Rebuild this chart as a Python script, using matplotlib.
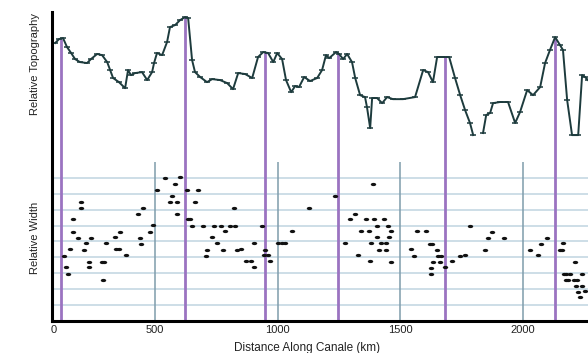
import numpy as np
import matplotlib
matplotlib.use("Agg")
import matplotlib.pyplot as plt
from matplotlib.path import Path
from matplotlib.transforms import Affine2D

plt.rcParams["font.family"] = ["Liberation Sans", "DejaVu Sans"]

# Topography profile (distance km, relative height)
topo_km = [93, 109, 125, 141, 158, 174, 194, 223, 239, 264, 284, 305, 317, 329, 353,
           378, 390, 402, 419, 447, 468, 488, 496, 508, 529, 549, 561, 582, 602, 623,
           635, 651, 663, 684, 712, 733, 765, 794, 818, 839, 867, 896, 920, 941, 961,
           982, 998, 1018, 1034, 1055, 1071, 1087, 1108, 1132, 1161, 1181, 1197, 1210,
           1238, 1250, 1267, 1283, 1303, 1316, 1336, 1356, 1364, 1377, 1385, 1405, 1426,
           1446, 1470, 1511, 1560, 1593, 1613, 1633, 1650, 1670, 1699, 1723, 1744, 1764,
           1784, 1797,
           1837, 1850, 1866, 1878, 1907, 1939, 1968, 1988, 2017, 2041, 2070, 2090, 2110,
           2131, 2151, 2163, 2180, 2200, 2225, 2241, 2253, 2265]
topo_y = [17.48, 17.73, 17.79, 17.23, 16.85, 16.47, 16.28, 16.22, 16.47, 16.79, 16.72,
          16.28, 15.78, 15.28, 15.02, 14.64, 15.78, 15.46, 15.59, 15.65, 15.15, 15.65,
          16.22, 16.85, 16.72, 17.54, 18.48, 18.61, 18.92, 19.11, 19.05, 16.41, 15.65,
          15.34, 15.02, 15.21, 15.15, 14.96, 14.58, 15.59, 15.53, 15.28, 16.60, 16.91,
          16.85, 16.28, 16.85, 16.47, 15.15, 14.39, 14.77, 14.71, 15.34, 15.09, 15.28,
          15.78, 16.72, 16.53, 16.91, 16.79, 16.47, 16.79, 16.28, 15.28, 14.20, 14.08,
          13.45, 12.13, 14.02, 14.02, 13.70, 14.08, 13.95, 13.95, 14.08, 15.78, 15.65,
          15.02, 16.60, 16.60, 16.60, 15.28, 14.20, 13.26, 12.45, 11.69,
          11.82, 12.95, 13.08, 13.70, 13.77, 13.77, 12.45, 13.14, 14.52, 14.20, 14.71,
          16.22, 17.04, 17.85, 17.35, 17.04, 13.89, 11.69, 11.69, 15.46, 15.34, 15.15]
gap_km = 1815  # the profile is broken here

# Relative channel width measurements
width_km = [128, 137, 146, 155, 166, 167, 186, 200, 200, 212, 219, 230, 232, 237, 284,
            291, 288, 302, 338, 341, 352, 359, 382, 431, 440, 444, 450, 480, 492, 506,
            542, 559, 570, 583, 589, 591, 601,
            632, 677, 663, 636, 644, 652, 697, 741, 769, 805, 826, 820, 786, 731, 753,
            711, 709, 776, 833, 852, 871, 892, 905, 905, 938, 949, 946, 960, 969, 1003,
            1017, 1030, 1060, 1128,
            1233, 1390, 1314, 1294, 1358, 1393, 1434, 1404, 1449, 1341, 1371, 1461, 1404,
            1453, 1273, 1379, 1420, 1443, 1411, 1441, 1328, 1377, 1461, 1568, 1605, 1621,
            1629, 1542, 1651, 1556, 1654, 1667, 1632, 1661, 1681, 1627, 1627, 1711,
            1745, 1764, 1786, 1846, 1859, 1875, 1924, 2029, 2060, 2075, 2097, 2149, 2159,
            2162, 2214, 2166, 2177, 2193, 2240, 2174, 2183, 2207, 2221, 2217, 2240, 2223,
            2253, 2234]
width_val = [4.10, 3.39, 2.97, 4.50, 5.61, 6.41, 5.23, 7.50, 7.12, 4.48, 4.88, 3.39,
             3.70, 5.23, 3.73, 3.73, 2.59, 4.88, 5.26, 4.50, 4.50, 5.61, 4.12, 6.74, 5.23,
             4.86, 7.12, 5.61, 6.01, 8.25, 8.97, 7.50, 7.88, 8.59, 7.50, 6.74, 9.03,
             8.25, 8.25, 7.50, 6.43, 6.39, 5.97, 5.97, 5.97, 5.99, 5.97, 5.97, 7.12, 5.63,
             5.28, 4.88, 4.48, 4.10, 4.48, 4.48, 4.50, 3.75, 3.75, 3.39, 4.88, 5.97, 4.48,
             4.12, 4.12, 3.75, 4.88, 4.88, 4.88, 5.65, 7.12,
             7.88, 8.61, 6.74, 6.39, 6.39, 6.39, 6.39, 5.99, 5.97, 5.63, 5.63, 5.63, 5.26,
             5.26, 4.88, 4.88, 4.88, 4.88, 4.48, 4.48, 4.12, 3.75, 3.73, 5.63, 5.63, 4.86,
             4.84, 4.50, 4.48, 4.10, 4.10, 4.10, 3.70, 3.70, 3.39, 3.35, 2.97, 3.75,
             4.10, 4.12, 5.99, 4.48, 5.23, 5.59, 5.23, 4.48, 4.12, 4.86, 5.23, 4.48, 4.48,
             4.88, 3.73, 2.97, 2.97, 2.97, 2.97, 2.59, 2.59, 2.59, 2.59, 2.21, 2.21, 1.84,
             1.88, 1.48]

peak_km = [117, 621, 949, 1244, 1681, 2132]
ref_km = [500, 1000, 1500, 2000]
grid_levels = [1, 2, 3, 4, 5, 6, 7, 8, 9]
tick_pos = [88, 500, 1000, 1500, 2000]
tick_labels = ["0", "500", "1000", "1500", "2000"]

topo_km = np.array(topo_km)
topo_y = np.array(topo_y)

fig = plt.figure(figsize=(5.88, 3.53), dpi=100)
ax = fig.add_axes([52 / 588, 1 - 321 / 353, 1 - 52 / 588, 309 / 353])
xmin, xmax = 80, 2265
ax.set_xlim(xmin, xmax)
ax.set_ylim(0, 19.43)

# background grid of the width panel
ax.hlines(grid_levels, xmin, xmax, color="#c9dbe5", lw=1.3, zorder=1)
ax.vlines(ref_km, 0, 10, color="#7f9cab", lw=1.1, zorder=2)

# purple lines from the topographic highs down to the axis
peak_top = np.interp(peak_km, topo_km, topo_y)
ax.vlines(peak_km, 0, peak_top, color="#9b73c1", lw=2.0, zorder=3)

# topography profile, broken in two pieces
line_kw = dict(color="#1d3b3d", lw=1.4, marker="_", ms=4, mew=1.1, zorder=4)
left = topo_km < gap_km
ax.plot(topo_km[left], topo_y[left], **line_kw)
ax.plot(topo_km[~left], topo_y[~left], **line_kw)

# small elliptical dots for width
ellipse = Affine2D().scale(1.0, 0.6).transform_path(Path.unit_circle())
ax.plot(width_km, width_val, ls="none", marker=ellipse, ms=3.9, color="#111111",
        mew=0, zorder=5)

for s in ["top", "right"]:
    ax.spines[s].set_visible(False)
ax.spines["left"].set_linewidth(2.2)
ax.spines["bottom"].set_linewidth(2.2)
ax.spines["left"].set_zorder(6)
ax.spines["bottom"].set_zorder(6)

ax.set_yticks([])
ax.set_xticks(tick_pos)
ax.set_xticklabels(tick_labels, fontsize=8, color="#222222")
ax.tick_params(axis="x", length=0, pad=3)

ax.set_xlabel("Distance Along Canale (km)", fontsize=8.5, color="#222222")
ax.xaxis.set_label_coords((307 - 52) / 536, -0.068)

fig.text(35 / 588, 1 - 64 / 353, "Relative Topography", rotation=90,
         ha="center", va="center", fontsize=8, color="#222222")
fig.text(35 / 588, 1 - 238 / 353, "Relative Width", rotation=90,
         ha="center", va="center", fontsize=8, color="#222222")

fig.savefig("out.png", dpi=100)
